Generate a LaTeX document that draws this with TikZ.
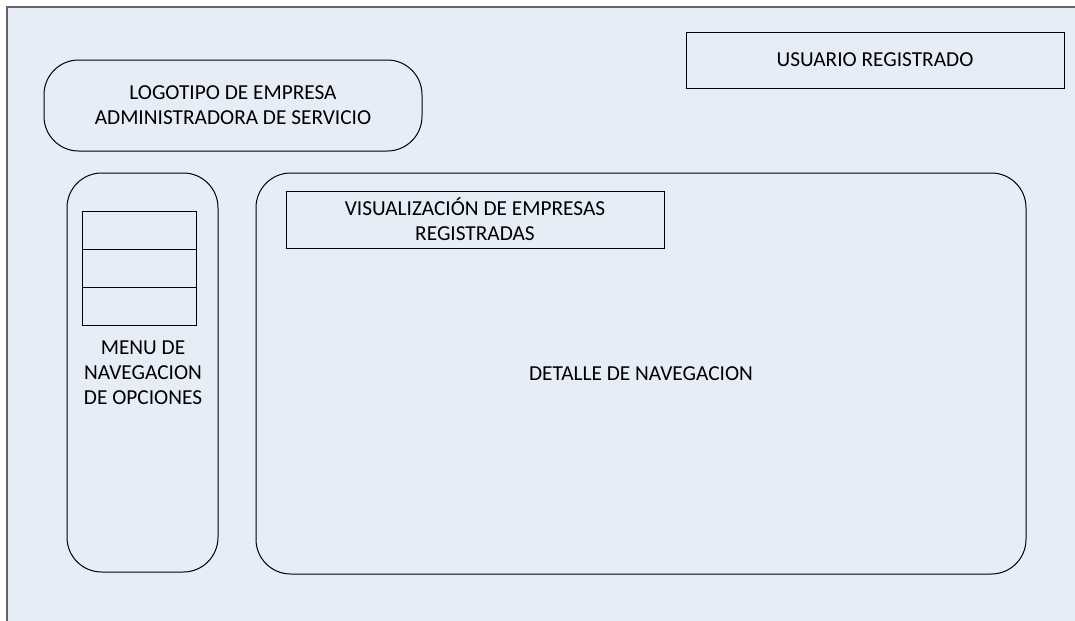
\documentclass[tikz,border=0pt]{standalone}
\usepackage{fontspec}
\setmainfont{Carlito}
\definecolor{fondo}{RGB}{231,237,247}
\definecolor{marco}{RGB}{100,100,100}
\tikzset{
  caja/.style={draw=black,line width=0.75pt,inner sep=0pt},
  redonda/.style={caja,rounded corners=26pt},
  texto/.style={align=center,font=\fontsize{16}{18.75}\selectfont}
}
\begin{document}
\begin{tikzpicture}[x=0.75pt,y=-0.75pt]
\useasboundingbox (0,0) rectangle (1075,621);
\fill[fondo] (7,7) rectangle (1075,621);
\draw[marco,line width=1.1pt] (1075,7) -- (7,7) -- (7,621);

\node[redonda,texto,minimum width=378*0.75pt,minimum height=91*0.75pt] (logo) at (233,105.5)
  {LOGOTIPO DE EMPRESA\\ADMINISTRADORA DE SERVICIO};
\node[caja,texto,minimum width=378*0.75pt,minimum height=56*0.75pt] (usuario) at (875,60)
  {USUARIO REGISTRADO};

\node[redonda,minimum width=151*0.75pt,minimum height=399*0.75pt] (menu) at (142.5,372.5) {};
\foreach \i in {0,1,2}
  \node[caja,minimum width=114*0.75pt,minimum height=38*0.75pt] (opcion\i) at (139,230+38*\i) {};
\node[texto] (menutexto) at (143,373) {MENU DE\\NAVEGACION\\DE OPCIONES};

\node[redonda,texto,minimum width=770*0.75pt,minimum height=401*0.75pt] (detalle) at (641,373.5)
  {DETALLE DE NAVEGACION};
\node[caja,texto,minimum width=378*0.75pt,minimum height=57*0.75pt] (empresas) at (475,219.5)
  {VISUALIZACIÓN DE EMPRESAS\\REGISTRADAS};
\end{tikzpicture}
\end{document}
